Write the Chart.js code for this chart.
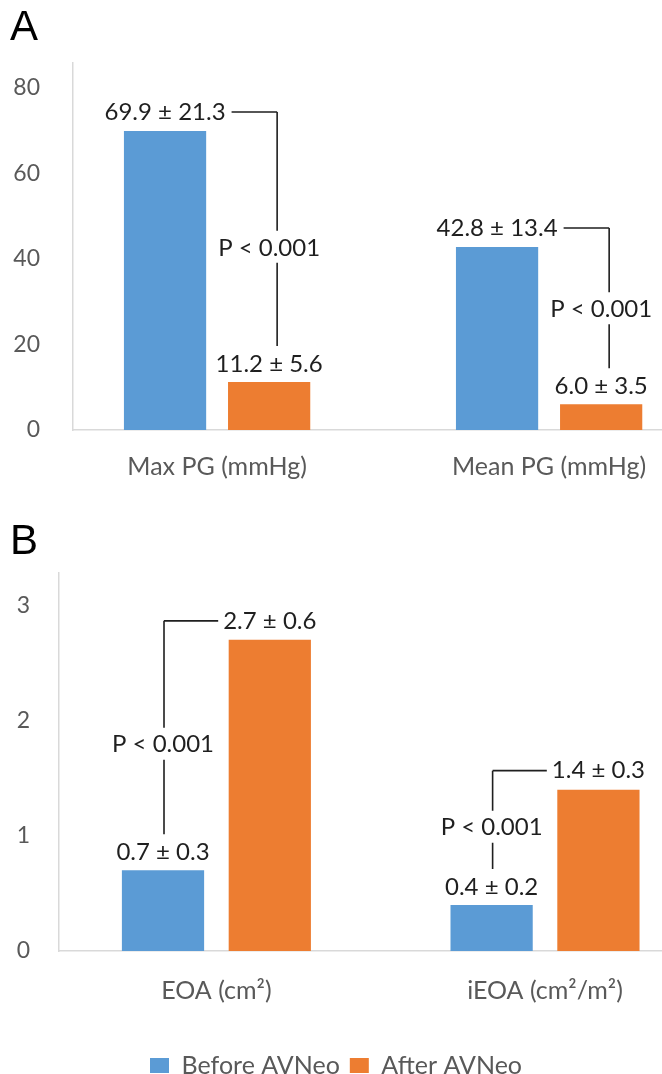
<!DOCTYPE html>
<html>
<head>
<meta charset="utf-8">
<script src="https://cdn.jsdelivr.net/npm/chart.js@4.4.0/dist/chart.umd.min.js"></script>
<style>
  html, body { margin: 0; padding: 0; background: #fff; overflow: hidden; }
  .box { position: absolute; left: 0; width: 662px; }
  #boxA { top: 0; height: 486px; }
  #boxB { top: 486px; height: 602px; }
</style>
</head>
<body>
<div class="box" id="boxA"><canvas id="chartA"></canvas></div>
<div class="box" id="boxB"><canvas id="chartB"></canvas></div>
<script>
'use strict';
// panel A - pressure gradients
let categoriesA = ['Max PG (mmHg)', 'Mean PG (mmHg)'];
let beforeA = [69.9, 42.8];
let afterA = [11.2, 6.0];
let sdBeforeA = [21.3, 13.4];
let sdAfterA = [5.6, 3.5];
let pA = ['P < 0.001', 'P < 0.001'];
let ticksA = [0, 20, 40, 60, 80];

// panel B - orifice areas
let categoriesB = ['EOA (cm²)', 'iEOA (cm²/m²)'];
let beforeB = [0.7, 0.4];
let afterB = [2.7, 1.4];
let sdBeforeB = [0.3, 0.2];
let sdAfterB = [0.6, 0.3];
let pB = ['P < 0.001', 'P < 0.001'];
let ticksB = [0, 1, 2, 3];

let seriesNames = ['Before AVNeo', 'After AVNeo'];
let blue = '#5b9bd5';
let orange = '#ed7d31';

Chart.defaults.font.family = 'Lato';
Chart.defaults.animation = false;

// value labels + p-value brackets, placed from the bar elements
const bracketPlugin = {
  id: 'brackets',
  afterDatasetsDraw(chart, args, opts) {
    const ctx = chart.ctx;
    const m0 = chart.getDatasetMeta(0);
    const m1 = chart.getDatasetMeta(1);
    ctx.save();
    ctx.font = '24px Lato';
    ctx.fillStyle = '#1f1f1f';
    ctx.strokeStyle = '#1f1f1f';
    ctx.lineWidth = 1.6;
    ctx.textAlign = 'center';
    ctx.textBaseline = 'middle';
    for (let i = 0; i < opts.before.length; i++) {
      let bars = [
        { el: m0.data[i], txt: opts.before[i].toFixed(1) + ' ± ' + opts.sdBefore[i].toFixed(1) },
        { el: m1.data[i], txt: opts.after[i].toFixed(1) + ' ± ' + opts.sdAfter[i].toFixed(1) }
      ];
      let hi = bars[0].el.y < bars[1].el.y ? bars[0] : bars[1];
      let lo = hi === bars[0] ? bars[1] : bars[0];
      let hiY = hi.el.y - 19;
      let loY = lo.el.y - 18;
      ctx.fillText(hi.txt, hi.el.x, hiY);
      ctx.fillText(lo.txt, lo.el.x, loY);

      let bx = lo.el.x + opts.xOff;
      let w = ctx.measureText(hi.txt).width;
      ctx.beginPath();
      if (bx > hi.el.x) {
        ctx.moveTo(hi.el.x + w / 2 + 6, hiY);
        ctx.lineTo(bx, hiY);
      } else {
        ctx.moveTo(bx, hiY);
        ctx.lineTo(hi.el.x - w / 2 - 5, hiY);
      }
      let top = hiY;
      let bottom = loY - 18;
      let py = top + (bottom - top) * 0.58;
      ctx.moveTo(bx, top);
      ctx.lineTo(bx, py - 17);
      ctx.moveTo(bx, py + 15);
      ctx.lineTo(bx, bottom);
      ctx.stroke();
      ctx.fillText(opts.p[i], lo.el.x, py);
    }
    ctx.restore();
  }
};

function makeChart(id, cfg) {
  let cats = cfg.cats;
  return new Chart(document.getElementById(id), {
    type: 'bar',
    data: {
      datasets: [{
        label: seriesNames[0],
        data: cats.map((c, i) => ({ x: i, y: cfg.before[i] })),
        backgroundColor: blue,
        categoryPercentage: cfg.catPct,
        barPercentage: cfg.barPct
      }, {
        label: seriesNames[1],
        data: cats.map((c, i) => ({ x: i, y: cfg.after[i] })),
        backgroundColor: orange,
        categoryPercentage: cfg.catPct,
        barPercentage: cfg.barPct
      }]
    },
    options: {
      responsive: true,
      maintainAspectRatio: false,
      layout: { padding: { left: 10, right: 0, top: 0, bottom: 0 } },
      scales: {
        x: {
          type: 'linear',
          min: cfg.xMin,
          max: cfg.xMax,
          offset: false,
          border: { color: '#d9d9d9', width: 1.5 },
          // invisible tick marks used as the label gap
          grid: { color: 'transparent', drawOnChartArea: false, drawTicks: true, tickLength: cfg.xPad, tickColor: 'transparent' },
          afterBuildTicks: s => { s.ticks = cats.map((c, i) => ({ value: i })); },
          ticks: {
            padding: 0,
            color: '#595959',
            font: { size: 25 },
            maxRotation: 0,
            autoSkip: false,
            callback: v => cats[v]
          },
          afterFit: s => { s.height = cfg.xHeight; }
        },
        y: {
          min: 0,
          max: cfg.yMax,
          border: { color: '#d9d9d9', width: 1.5 },
          grid: { display: false, drawTicks: false },
          afterBuildTicks: s => { s.ticks = cfg.ticks.map(v => ({ value: v })); },
          ticks: { padding: cfg.yPad, color: '#595959', font: { size: 23 } },
          afterFit: s => { s.width = cfg.yWidth; }
        }
      },
      plugins: {
        title: {
          display: true,
          text: cfg.title,
          align: 'start',
          color: '#000',
          font: { family: 'Liberation Sans', size: 42, weight: 'normal' },
          padding: cfg.titlePad
        },
        legend: {
          display: cfg.legend,
          position: 'bottom',
          labels: {
            boxWidth: 19,
            boxHeight: 15,
            color: '#595959',
            font: { size: 25 },
            padding: 10
          }
        },
        tooltip: { enabled: false },
        brackets: {
          before: cfg.before, after: cfg.after,
          sdBefore: cfg.sdBefore, sdAfter: cfg.sdAfter,
          p: cfg.p, xOff: cfg.xOff
        }
      }
    },
    plugins: [bracketPlugin]
  });
}

makeChart('chartA', {
  title: 'A', cats: categoriesA, before: beforeA, after: afterA,
  sdBefore: sdBeforeA, sdAfter: sdAfterA, p: pA, ticks: ticksA,
  yMax: 85.8, xMin: -0.434, xMax: 1.34, catPct: 0.627, barPct: 0.79,
  yWidth: 63, yPad: 33, xHeight: 56, xPad: 22,
  titlePad: { top: 3, bottom: 9.6 }, legend: false, xOff: 8
});

makeChart('chartB', {
  title: 'B', cats: categoriesB, before: beforeB, after: afterB,
  sdBefore: sdBeforeB, sdAfter: sdAfterB, p: pB, ticks: ticksB,
  yMax: 3.28, xMin: -0.479, xMax: 1.356, catPct: 0.65, barPct: 0.77,
  yWidth: 49, yPad: 29, xHeight: 92, xPad: 25,
  titlePad: { top: 31, bottom: 5.6 }, legend: true, xOff: 1
});
</script>
</body>
</html>
